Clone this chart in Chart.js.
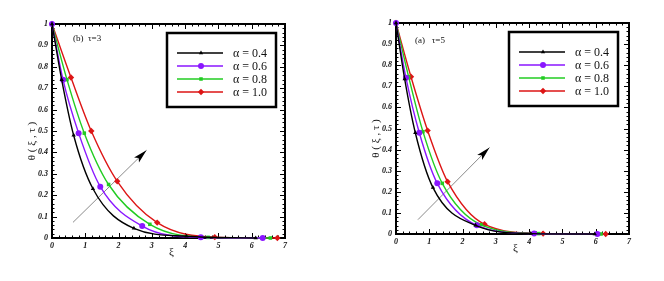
<!DOCTYPE html>
<html>
<head>
<meta charset="utf-8">
<script src="https://cdn.jsdelivr.net/npm/chart.js@4.4.0/dist/chart.umd.min.js"></script>
<style>
body { margin: 0; background: #fff; width: 664px; height: 281px; overflow: hidden; }
canvas { position: absolute; top: 0; }
</style>
</head>
<body>
<canvas id="chartB" width="332" height="281" style="left:0"></canvas>
<canvas id="chartA" width="332" height="281" style="left:332px"></canvas>
<script>
// legend labels and ticks
const alphaLabels = ['α = 0.4', 'α = 0.6', 'α = 0.8', 'α = 1.0'];
const xTicks = [0, 1, 2, 3, 4, 5, 6, 7];
const yTicks = [0, 0.1, 0.2, 0.3, 0.4, 0.5, 0.6, 0.7, 0.8, 0.9, 1];
const yTickLabels = ['0', '0.1', '0.2', '0.3', '0.4', '0.5', '0.6', '0.7', '0.8', '0.9', '1'];

// (b) tau = 3
const tau3_a04_x = [0, 0.29, 0.65, 1.23, 2.46, 4.04, 6.12];
const tau3_a04_y = [1, 0.74, 0.48, 0.23, 0.045, 0.008, 0];
const tau3_a06_x = [0, 0.33, 0.80, 1.45, 2.71, 4.47, 6.33];
const tau3_a06_y = [1, 0.74, 0.49, 0.24, 0.056, 0.003, 0];
const tau3_a08_x = [0, 0.45, 0.97, 1.70, 2.94, 4.69, 6.56];
const tau3_a08_y = [1, 0.74, 0.49, 0.25, 0.064, 0.003, 0];
const tau3_a10_x = [0, 0.57, 1.18, 1.96, 3.16, 4.89, 6.77];
const tau3_a10_y = [1, 0.75, 0.50, 0.265, 0.072, 0.004, 0];
const tau3_arrow_x = [0.63, 2.84];
const tau3_arrow_y = [0.073, 0.41];

// (a) tau = 5
const tau5_a04_x = [0, 0.26, 0.58, 1.11, 2.39, 4.05, 5.97];
const tau5_a04_y = [1, 0.735, 0.48, 0.22, 0.041, 0.002, 0];
const tau5_a06_x = [0, 0.30, 0.70, 1.24, 2.43, 4.15, 6.05];
const tau5_a06_y = [1, 0.74, 0.48, 0.24, 0.041, 0.002, 0];
const tau5_a08_x = [0, 0.38, 0.81, 1.39, 2.55, 4.29, 6.16];
const tau5_a08_y = [1, 0.745, 0.485, 0.24, 0.044, 0.002, 0];
const tau5_a10_x = [0, 0.45, 0.95, 1.55, 2.66, 4.42, 6.30];
const tau5_a10_y = [1, 0.745, 0.49, 0.248, 0.046, 0.002, 0];
const tau5_arrow_x = [0.66, 2.81];
const tau5_arrow_y = [0.068, 0.41];

const seriesStyle = [
    { color: '#000000', pointStyle: 'triangle', radius: 2.5 },
    { color: '#8a16ff', pointStyle: 'circle', radius: 3 },
    { color: '#22cc22', pointStyle: 'rect', radius: 2.5 },
    { color: '#dd1515', pointStyle: 'rectRot', radius: 3.2 }
];

function toPoints(xs, ys) {
    return xs.map((x, i) => ({ x: x, y: ys[i] }));
}

function makeDatasets(series, arrowX, arrowY) {
    let datasets = [];
    series.forEach((s, i) => {
        let st = seriesStyle[i];
        datasets.push({
            label: alphaLabels[i],
            data: toPoints(s[0], s[1]),
            showLine: true,
            borderColor: st.color,
            backgroundColor: st.color,
            borderWidth: 1.4,
            pointStyle: st.pointStyle,
            pointRadius: st.radius,
            pointBorderWidth: 0,
            cubicInterpolationMode: 'monotone',
            clip: false
        });
    });
    datasets.push({
        label: 'arrow',
        data: toPoints(arrowX, arrowY),
        showLine: true,
        borderColor: '#8a8a8a',
        borderWidth: 1,
        pointRadius: 0,
        clip: false
    });
    return datasets;
}

const serif = "'Liberation Serif', 'DejaVu Serif', serif";

const framePlugin = {
    id: 'frame',
    beforeDatasetsDraw(chart) {
        const ctx = chart.ctx;
        const a = chart.chartArea;
        const x = chart.scales.x, y = chart.scales.y;
        ctx.save();
        ctx.strokeStyle = '#000';
        ctx.lineWidth = 1;
        ctx.beginPath();
        for (let i = 0; i < xTicks.length; i++) {
            for (let k = 0; k < 5; k++) {
                if (i === xTicks.length - 1 && k > 0) break;
                let v = xTicks[i] + k * 0.2;
                let px = Math.round(x.getPixelForValue(v)) + 0.5;
                let len = k === 0 ? 5 : 2.5;
                ctx.moveTo(px, a.bottom); ctx.lineTo(px, a.bottom - len);
                ctx.moveTo(px, a.top); ctx.lineTo(px, a.top + len);
            }
        }
        for (let i = 0; i < yTicks.length; i++) {
            for (let k = 0; k < 5; k++) {
                if (i === yTicks.length - 1 && k > 0) break;
                let v = yTicks[i] + k * 0.02;
                let py = Math.round(y.getPixelForValue(v)) + 0.5;
                let len = k === 0 ? 5 : 2.5;
                ctx.moveTo(a.left, py); ctx.lineTo(a.left + len, py);
                ctx.moveTo(a.right, py); ctx.lineTo(a.right - len, py);
            }
        }
        ctx.stroke();
        ctx.lineWidth = 2;
        ctx.strokeRect(a.left, a.top, a.right - a.left, a.bottom - a.top);

        // tick labels
        ctx.fillStyle = '#111';
        ctx.font = 'italic bold 8px ' + serif;
        ctx.textAlign = 'right';
        ctx.textBaseline = 'middle';
        yTicks.forEach((v, i) => {
            ctx.fillText(yTickLabels[i], a.left - 4, y.getPixelForValue(v));
        });
        ctx.textAlign = 'center';
        ctx.textBaseline = 'top';
        xTicks.forEach(v => {
            ctx.fillText(String(v), x.getPixelForValue(v), a.bottom + 4);
        });

        // axis titles
        const opts = chart.options.plugins.frame;
        ctx.font = '11px ' + serif;
        ctx.textAlign = 'center';
        ctx.textBaseline = 'middle';
        ctx.fillText('ξ', (a.left + a.right) / 2 + 3, a.bottom + 14);
        ctx.save();
        ctx.translate(a.left - 20, (a.top + a.bottom) / 2 + 10);
        ctx.rotate(-Math.PI / 2);
        ctx.fillText('θ ( ξ , τ )', 0, 0);
        ctx.restore();

        // panel label
        ctx.font = '9px ' + serif;
        ctx.textAlign = 'left';
        ctx.fillText(opts.panel, a.left + opts.panelDx, a.top + opts.panelDy);
        ctx.restore();
    },
    afterDatasetsDraw(chart) {
        const ctx = chart.ctx;
        const opts = chart.options.plugins.frame;
        const a = chart.chartArea;

        // arrow head
        const n = chart.data.datasets.length - 1;
        const pts = chart.getDatasetMeta(n).data;
        const p0 = pts[0], p1 = pts[pts.length - 1];
        const ang = Math.atan2(p1.y - p0.y, p1.x - p0.x);
        const L = 14, W = 3.5;
        ctx.save();
        ctx.fillStyle = '#000';
        ctx.translate(p1.x, p1.y);
        ctx.rotate(ang);
        ctx.beginPath();
        ctx.moveTo(0, 0);
        ctx.lineTo(-L, -W);
        ctx.lineTo(-L + 3, 0);
        ctx.lineTo(-L, W);
        ctx.closePath();
        ctx.fill();
        ctx.restore();

        // legend box
        const bw = 109, bh = 74;
        const bx = a.right - opts.legendRight - bw;
        const by = a.top + 9;
        ctx.save();
        ctx.fillStyle = '#fff';
        ctx.fillRect(bx, by, bw, bh);
        ctx.strokeStyle = '#000';
        ctx.lineWidth = 2.5;
        ctx.strokeRect(bx, by, bw, bh);
        ctx.font = '12px ' + serif;
        ctx.textAlign = 'left';
        ctx.textBaseline = 'middle';
        for (let i = 0; i < 4; i++) {
            const ds = chart.data.datasets[i];
            const ly = by + 20 + i * 13;
            ctx.strokeStyle = ds.borderColor;
            ctx.lineWidth = 1.4;
            ctx.beginPath();
            ctx.moveTo(bx + 10, ly);
            ctx.lineTo(bx + 56, ly);
            ctx.stroke();
            ctx.fillStyle = ds.backgroundColor;
            Chart.helpers.drawPoint(ctx, { pointStyle: ds.pointStyle, radius: ds.pointRadius, rotation: 0, borderWidth: 0 }, bx + 34, ly);
            ctx.fillStyle = '#111';
            ctx.fillText(ds.label, bx + 66, ly + 1);
        }
        ctx.restore();
    }
};

function makeChart(id, datasets, padding, panel, panelDx, panelDy, legendRight) {
    return new Chart(document.getElementById(id), {
        type: 'scatter',
        data: { datasets: datasets },
        options: {
            responsive: false,
            animation: false,
            layout: { padding: padding },
            plugins: {
                legend: { display: false },
                tooltip: { enabled: false },
                frame: { panel: panel, panelDx: panelDx, panelDy: panelDy, legendRight: legendRight }
            },
            scales: {
                x: { type: 'linear', min: 0, max: 7, display: false },
                y: { type: 'linear', min: 0, max: 1, display: false }
            }
        },
        plugins: [framePlugin]
    });
}

makeChart('chartB', makeDatasets([
    [tau3_a04_x, tau3_a04_y],
    [tau3_a06_x, tau3_a06_y],
    [tau3_a08_x, tau3_a08_y],
    [tau3_a10_x, tau3_a10_y]
], tau3_arrow_x, tau3_arrow_y), { left: 52, top: 24, right: 47, bottom: 43 }, '(b)  τ=3', 21, 15, 9);

makeChart('chartA', makeDatasets([
    [tau5_a04_x, tau5_a04_y],
    [tau5_a06_x, tau5_a06_y],
    [tau5_a08_x, tau5_a08_y],
    [tau5_a10_x, tau5_a10_y]
], tau5_arrow_x, tau5_arrow_y), { left: 64, top: 23, right: 35, bottom: 47 }, '(a)   τ=5', 19, 18, 11);
</script>
</body>
</html>
